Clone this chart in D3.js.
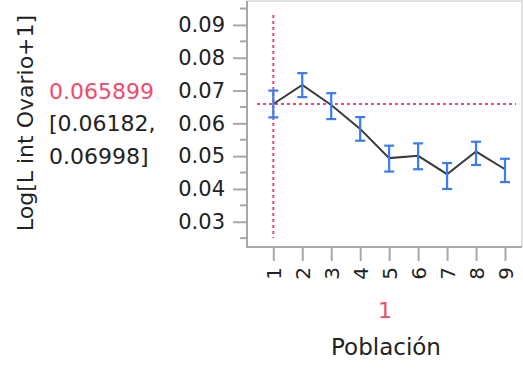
<!DOCTYPE html>
<html>
<head>
<meta charset="utf-8">
<script src="https://cdn.jsdelivr.net/npm/d3@7"></script>
<style>
  body { margin: 0; background: #fff; }
  text { font-family: "DejaVu Sans", "Open Sans", sans-serif; }
</style>
</head>
<body>
<div id="chart"></div>
<script>
// group labels and the estimated means / interval bounds per group
const groups = ['1', '2', '3', '4', '5', '6', '7', '8', '9']
const means = [0.065899, 0.0717, 0.0656, 0.0583, 0.0494, 0.0501, 0.0445, 0.0514, 0.0460]
const lower = [0.06182, 0.0680, 0.0613, 0.0547, 0.0453, 0.0460, 0.0400, 0.0473, 0.0421]
const upper = [0.06998, 0.0753, 0.0692, 0.0619, 0.0532, 0.0539, 0.0479, 0.0544, 0.0492]
const yTicks = [0.03, 0.04, 0.05, 0.06, 0.07, 0.08, 0.09]
const yMinor = [0.025, 0.035, 0.045, 0.055, 0.065, 0.075, 0.085, 0.095]
const selMean = 0.065899
const selLow = 0.06182
const selHigh = 0.06998
const selGroup = '1'

const width = 523, height = 369
const plot = { left: 247, right: 522, top: 1, bottom: 247 }
const red = '#f04a6c', blue = '#3a7cf2', axisGray = '#a8a8a8'

const svg = d3.select('#chart').append('svg')
    .attr('width', width)
    .attr('height', height)

const x = d3.scalePoint()
    .domain(groups)
    .range([273.3, 505])

const y = d3.scaleLinear()
    .domain([0.0223, 0.0973])
    .range([plot.bottom, plot.top])

// frame (top and right, light)
svg.append('path')
    .attr('d', `M${plot.left},${plot.top}H${plot.right}V${plot.bottom}`)
    .attr('fill', 'none')
    .attr('stroke', '#d8d8d8')
    .attr('stroke-width', 1.5)

// reference lines for the selected group
svg.append('line')
    .attr('x1', x(selGroup)).attr('x2', x(selGroup))
    .attr('y1', 15).attr('y2', 238)
    .attr('stroke', red)
    .attr('stroke-width', 2)
    .attr('stroke-dasharray', '3,3')
svg.append('line')
    .attr('x1', 257).attr('x2', 516)
    .attr('y1', y(selMean)).attr('y2', y(selMean))
    .attr('stroke', red)
    .attr('stroke-width', 2)
    .attr('stroke-dasharray', '3,3')

// y axis
const yAxis = svg.append('g')
    .attr('transform', `translate(${plot.left},0)`)
    .call(d3.axisLeft(y).tickValues(yTicks).tickSize(14).tickPadding(8).tickFormat(d3.format('.2f')))
yAxis.selectAll('.tick text').style('font-size', '21px').attr('fill', '#222')
yAxis.selectAll('.tick line').attr('stroke', axisGray).attr('stroke-width', 2)
yAxis.select('.domain').remove()

svg.append('g')
    .selectAll('line')
    .data(yMinor)
    .join('line')
    .attr('x1', plot.left - 7).attr('x2', plot.left)
    .attr('y1', d => y(d)).attr('y2', d => y(d))
    .attr('stroke', axisGray)
    .attr('stroke-width', 2)

// x axis
const xAxis = svg.append('g')
    .attr('transform', `translate(0,${plot.bottom})`)
    .call(d3.axisBottom(x).tickSize(14))
xAxis.select('.domain').remove()
xAxis.selectAll('.tick line').attr('stroke', axisGray).attr('stroke-width', 2)
xAxis.selectAll('.tick text')
    .style('font-size', '20px')
    .attr('fill', '#222')
    .attr('transform', 'translate(0,20) rotate(-90)')
    .attr('text-anchor', 'end')
    .attr('x', 0).attr('y', 0).attr('dy', '0.35em')

// axis lines
svg.append('path')
    .attr('d', `M${plot.left},${plot.top}V${plot.bottom}H${plot.right}`)
    .attr('fill', 'none')
    .attr('stroke', axisGray)
    .attr('stroke-width', 2)

// means line
const rows = groups.map((g, i) => ({ g, m: means[i], lo: lower[i], hi: upper[i] }))
svg.append('path')
    .datum(rows)
    .attr('d', d3.line().x(d => x(d.g)).y(d => y(d.m)))
    .attr('fill', 'none')
    .attr('stroke', '#3a3a3a')
    .attr('stroke-width', 2)

// error bars
const bars = svg.append('g')
    .selectAll('g')
    .data(rows)
    .join('g')
    .attr('stroke', blue)
    .attr('stroke-width', 2.2)
bars.append('line')
    .attr('x1', d => x(d.g)).attr('x2', d => x(d.g))
    .attr('y1', d => y(d.lo)).attr('y2', d => y(d.hi))
bars.append('line')
    .attr('x1', d => x(d.g) - 5).attr('x2', d => x(d.g) + 5)
    .attr('y1', d => y(d.lo)).attr('y2', d => y(d.lo))
bars.append('line')
    .attr('x1', d => x(d.g) - 5).attr('x2', d => x(d.g) + 5)
    .attr('y1', d => y(d.hi)).attr('y2', d => y(d.hi))

// left labels
svg.append('text')
    .attr('transform', 'translate(25,123) rotate(-90)')
    .attr('text-anchor', 'middle')
    .attr('dy', '0.35em')
    .style('font-size', '22px')
    .attr('fill', '#222')
    .text('Log[L int Ovario+1]')

const readout = [
    { t: d3.format('.6f')(selMean), c: red, yy: 91 },
    { t: `[${selLow},`, c: '#222', yy: 123 },
    { t: `${selHigh}]`, c: '#222', yy: 156 }
]
svg.append('g')
    .selectAll('text')
    .data(readout)
    .join('text')
    .attr('x', 49)
    .attr('y', d => d.yy)
    .attr('dy', '0.35em')
    .style('font-size', '22px')
    .attr('fill', d => d.c)
    .text(d => d.t)

// x labels
svg.append('text')
    .attr('x', 385).attr('y', 310)
    .attr('dy', '0.35em')
    .attr('text-anchor', 'middle')
    .style('font-size', '22px')
    .attr('fill', red)
    .text(selGroup)

svg.append('text')
    .attr('x', 386).attr('y', 347)
    .attr('dy', '0.35em')
    .attr('text-anchor', 'middle')
    .style('font-size', '23px')
    .attr('fill', '#222')
    .text('Población')
</script>
</body>
</html>
